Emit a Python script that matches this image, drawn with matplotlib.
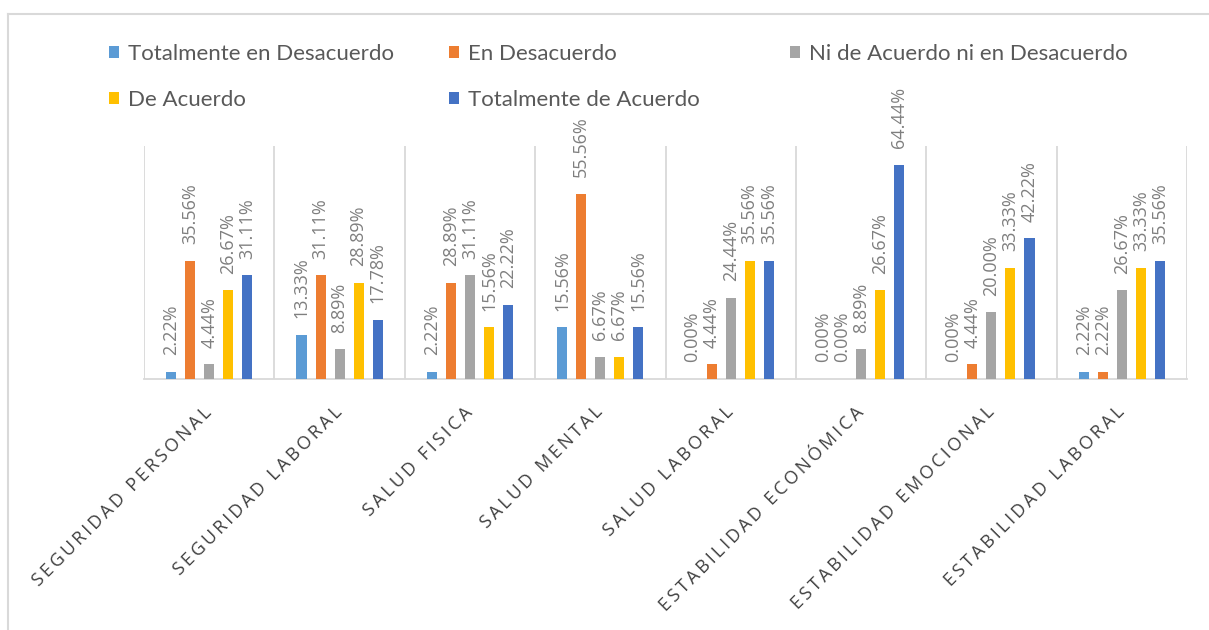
import numpy as np
import matplotlib.pyplot as plt
from matplotlib.lines import Line2D
from matplotlib.patches import Patch

categories = [
    "SEGURIDAD PERSONAL", "SEGURIDAD LABORAL", "SALUD FISICA", "SALUD MENTAL",
    "SALUD LABORAL", "ESTABILIDAD ECONÓMICA", "ESTABILIDAD EMOCIONAL",
    "ESTABILIDAD LABORAL",
]
series_names = [
    "Totalmente en Desacuerdo", "En Desacuerdo",
    "Ni de Acuerdo ni en Desacuerdo", "De Acuerdo", "Totalmente de Acuerdo",
]
totalmente_desacuerdo = [2.22, 13.33, 2.22, 15.56, 0.00, 0.00, 0.00, 2.22]
en_desacuerdo = [35.56, 31.11, 28.89, 55.56, 4.44, 0.00, 4.44, 2.22]
ni_ni = [4.44, 8.89, 31.11, 6.67, 24.44, 8.89, 20.00, 26.67]
de_acuerdo = [26.67, 28.89, 15.56, 6.67, 35.56, 26.67, 33.33, 33.33]
totalmente_acuerdo = [31.11, 17.78, 22.22, 15.56, 35.56, 64.44, 42.22, 35.56]

series = [totalmente_desacuerdo, en_desacuerdo, ni_ni, de_acuerdo, totalmente_acuerdo]
colors = ["#5B9BD5", "#ED7D31", "#A5A5A5", "#FFC000", "#4472C4"]

GRID = "#D9D9D9"

fig = plt.figure(figsize=(12.09, 6.30), dpi=100)
ax = fig.add_axes([144 / 1209, 1 - 379 / 630, (1187 - 144) / 1209, (379 - 146) / 630])

x = np.arange(len(categories))
step = 0.146
width = 0.077
for i, (vals, col) in enumerate(zip(series, colors)):
    pos = x + (i - 2) * step
    ax.bar(pos, vals, width=width, color=col, zorder=3)
    for px, v in zip(pos, vals):
        ax.annotate(f"{v:.2f}%", (px, v), xytext=(0, 12), textcoords="offset points",
                    rotation=90, ha="center", va="bottom", fontsize=13,
                    family="Open Sans", color="#7F7F7F")

ax.set_xlim(-0.5, len(categories) - 0.5)
ax.set_ylim(0, 70)
ax.set_yticks([])
for b in np.arange(-0.5, len(categories), 1.0):
    ax.axvline(b, color=GRID, lw=1.3, zorder=1)

for s in ["top", "right", "left"]:
    ax.spines[s].set_visible(False)
ax.spines["bottom"].set_color(GRID)
ax.spines["bottom"].set_linewidth(1.3)

# the original uses wide letter spacing on the category names
spaced = ["\u2009".join(name) for name in categories]
ax.set_xticks(x)
ax.set_xticklabels(spaced, rotation=45, ha="right", va="center",
                   rotation_mode="anchor", fontsize=13,
                   family=["Open Sans", "DejaVu Sans"], color="#404040")
ax.tick_params(axis="x", length=0, pad=22)

# legend, laid out in three columns like the original
handles = [Patch(facecolor=c, edgecolor="none") for c in colors]
columns = [([0, 3], 109), ([1, 4], 449), ([2], 790)]
for idx, xpix in columns:
    fig.legend([handles[i] for i in idx], [series_names[i] for i in idx],
               loc="upper left", bbox_to_anchor=(xpix / 1209, 1 - 44 / 630),
               frameon=False, prop={"family": "Lato", "size": 16},
               labelcolor="#595959", handlelength=0.45, handleheight=0.45,
               handletextpad=0.4, labelspacing=1.15, borderpad=0, borderaxespad=0)

# outer chart frame
fig.add_artist(Line2D([8 / 1209, 1], [1 - 14 / 630] * 2, transform=fig.transFigure,
                      color=GRID, lw=1.5))
fig.add_artist(Line2D([8 / 1209] * 2, [0, 1 - 14 / 630], transform=fig.transFigure,
                      color=GRID, lw=1.5))

fig.savefig("out.png", dpi=100)
